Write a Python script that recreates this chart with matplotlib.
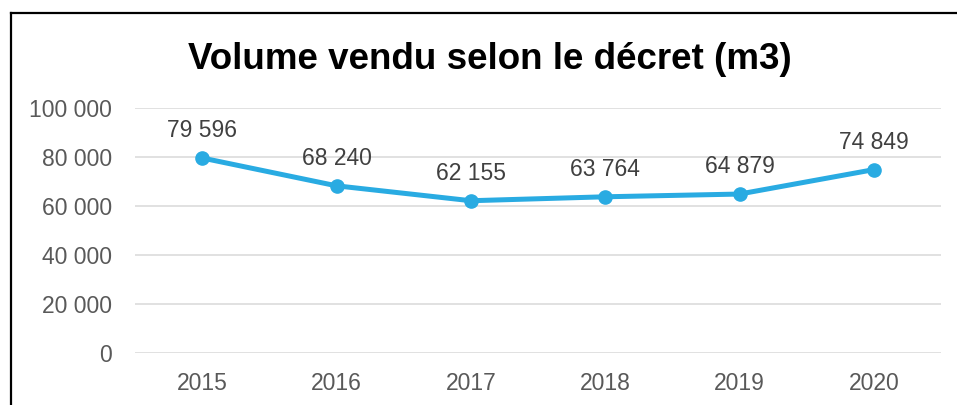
import matplotlib
matplotlib.use('Agg')
import matplotlib.pyplot as plt
from matplotlib.lines import Line2D

plt.rc('font', family='Liberation Sans')

years = ['2015', '2016', '2017', '2018', '2019', '2020']
volumes = [79596, 68240, 62155, 63764, 64879, 74849]
yticks = [0, 20000, 40000, 60000, 80000, 100000]


def fmt(v):
    # french thousands separator
    return '{:,}'.format(v).replace(',', ' ')


fig = plt.figure(figsize=(9.57, 4.05), dpi=100)
ax = fig.add_axes([0.1411, 0.1284, 0.9833 - 0.1411, 0.7333 - 0.1284])

x = range(len(years))
ax.plot(x, volumes, '-o', color='#29abe2', lw=3.6, ms=9.5, zorder=3)
for xi, v in zip(x, volumes):
    ax.annotate(fmt(v), (xi, v), xytext=(0, 15), textcoords='offset points',
                ha='center', va='baseline', fontsize=16.5, color='#404040')

ax.set_xlim(-0.5, len(years) - 0.5)
ax.set_ylim(0, 100000)
ax.set_yticks(yticks)
ax.set_yticklabels([fmt(t) for t in yticks])
ax.set_xticks(list(x))
ax.set_xticklabels(years)
ax.tick_params(length=0, labelsize=16.5, labelcolor='#595959')
ax.tick_params(axis='y', pad=16.5)
ax.tick_params(axis='x', pad=14)
ax.grid(True, axis='y', color='#d9d9d9', lw=1.1)
ax.set_axisbelow(True)
for s in ax.spines.values():
    s.set_visible(False)

fig.text(0.512, 1 - 69 / 405, 'Volume vendu selon le décret (m3)', ha='center',
         va='baseline', fontsize=26.5, fontweight='bold', color='black')

# chart frame (only top and left edges visible)
fig.add_artist(Line2D([10.5 / 957, 10.5 / 957], [0, 1 - 12.5 / 405], color='black', lw=1.6))
fig.add_artist(Line2D([10.5 / 957, 1], [1 - 12.5 / 405, 1 - 12.5 / 405], color='black', lw=1.6))

fig.savefig('out.png', dpi=100)
